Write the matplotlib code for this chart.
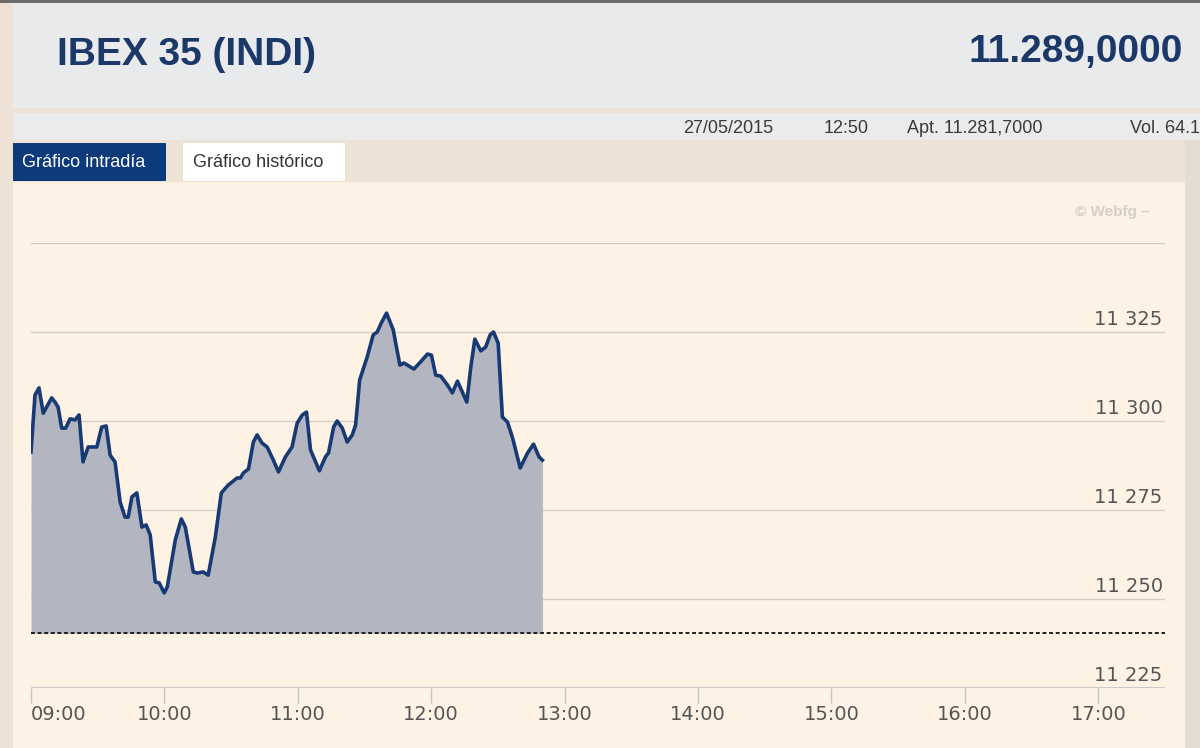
import matplotlib
matplotlib.use("Agg")
import matplotlib.pyplot as plt
from matplotlib.patches import Rectangle
import matplotlib.transforms as mtransforms

# intraday data: minutes after 09:00 and index level
minutes = [0, 1.8, 3.6, 5.5, 9.3, 10.8, 12.2, 13.8, 15.6, 17.6, 19.8, 21.6, 23.4, 25.7,
           29.6, 31.8, 33.8, 35.6, 37.8, 40.1, 42.3, 43.7, 45.4, 47.6, 49.9, 51.8, 53.6,
           55.9, 57.7, 59.9, 61.3, 64.9, 67.6, 69.4, 73.0, 74.8, 77.4, 79.7, 82.9, 85.6,
           88.7, 92.7, 94.2, 95.5, 97.8, 100.0, 101.7, 103.9, 106.2, 109.0, 111.3, 114.4,
           117.4, 119.7, 122.0, 123.9, 125.7, 129.7, 132.4, 133.8, 136.1, 137.7, 140.0,
           142.2, 144.5, 146.0, 147.8, 151.2, 153.9, 155.7, 157.5, 159.9, 162.9, 165.9,
           167.7, 172.2, 175.2, 178.3, 180.1, 182.0, 184.3, 187.3, 189.5, 191.8, 196.0,
           197.8, 199.6, 202.3, 204.5, 206.5, 208.0, 210.1, 212.0, 214.3, 216.6, 220.0,
           223.3, 226.0, 228.5, 230.0]
values = [11291.3, 11307.3, 11309.3, 11302.2, 11306.5, 11305.3, 11303.9, 11298.0, 11298.0,
          11300.6, 11300.3, 11301.7, 11288.5, 11292.7, 11292.7, 11298.3, 11298.6, 11290.4,
          11288.5, 11277.2, 11273.0, 11273.0, 11278.7, 11279.8, 11270.2, 11270.8, 11268.0,
          11254.8, 11254.5, 11251.7, 11253.4, 11266.6, 11272.5, 11270.2, 11257.6, 11257.3,
          11257.6, 11256.7, 11267.4, 11279.8, 11282.0, 11284.0, 11284.0, 11285.4, 11286.5,
          11294.1, 11296.1, 11293.8, 11292.7, 11289.0, 11285.7, 11289.9, 11292.7, 11299.4,
          11301.7, 11302.5, 11291.9, 11286.0, 11289.9, 11291.0, 11298.3, 11300.0, 11298.0,
          11294.1, 11296.1, 11298.9, 11311.5, 11318.0, 11324.2, 11325.0, 11327.5, 11330.3,
          11325.6, 11315.7, 11316.3, 11314.6, 11316.6, 11318.8, 11318.5, 11312.9, 11312.6,
          11310.1, 11307.9, 11311.2, 11305.3, 11315.2, 11323.0, 11319.7, 11320.8, 11324.2,
          11325.0, 11321.9, 11301.1, 11299.7, 11295.2, 11286.8, 11291.0, 11293.5, 11289.9,
          11289.0]
prev_close = 11240.4

hour_ticks = [0, 60, 120, 180, 240, 300, 360, 420, 480]
hour_labels = ["09:00", "10:00", "11:00", "12:00", "13:00", "14:00", "15:00", "16:00", "17:00"]
grid_levels = [11250, 11275, 11300, 11325, 11350]
label_levels = [11225, 11250, 11275, 11300, 11325]

title = "IBEX 35 (INDI)"
last_price = "11.289,0000"
info = [("27/05/2015", 683), ("12:50", 824), ("Apt. 11.281,7000", 907), ("Vol. 64.1", 1130)]

W, H = 1200, 748
fig = plt.figure(figsize=(W / 100, H / 100), dpi=100)

# page background drawn in pixel coordinates
bg = fig.add_axes([0, 0, 1, 1])
bg.set_xlim(0, W)
bg.set_ylim(H, 0)
bg.axis("off")

def box(x, y, w, h, color):
    bg.add_patch(Rectangle((x, y), w, h, facecolor=color, edgecolor="none"))

box(0, 0, W, H, "#ede2d5")
box(13, 3, W - 13, 105, "#e9eaec")
box(0, 0, W, 3, "#6b6b6b")
box(13, 113, W - 13, 27, "#ebebec")
box(13, 182, 1172, H - 182, "#fdf2e3")
box(1185, 140, 15, H - 140, "#e6ddd2")
box(13, 143, 153, 38, "#0d3a7b")
box(183, 143, 162, 38, "#ffffff")

bg.text(57, 55, title, fontsize=28, fontweight="bold", color="#1b3868",
        family="Liberation Sans", va="center", ha="left")
bg.text(1183, 52, last_price, fontsize=28, fontweight="bold", color="#1b3868",
        family="Liberation Sans", va="center", ha="right")
for txt, x in info:
    bg.text(x, 128, txt, fontsize=13, color="#3a3a3a", family="Liberation Sans",
            va="center", ha="left")
bg.text(22, 162, "Gráfico intradía", fontsize=13, color="white",
        family="Liberation Sans", va="center", ha="left")
bg.text(193, 162, "Gráfico histórico", fontsize=13, color="#333333",
        family="Liberation Sans", va="center", ha="left")
bg.text(1150, 212, "© Webfg –", fontsize=11, fontweight="bold", color="#d6cfc7",
        family="Liberation Sans", va="center", ha="right")

# chart axes
ax = fig.add_axes([31 / W, 60 / H, 1134 / W, 445 / H])
ax.set_facecolor("none")
ax.set_xlim(0, 510)
ax.set_ylim(11225, 11350)
for s in ax.spines.values():
    s.set_visible(False)

for lv in grid_levels:
    ax.axhline(lv, color="#d3cec6", lw=1, zorder=1)
ax.axhline(11225, color="#c4c4c4", lw=1.2, zorder=1)

ax.fill_between(minutes, values, prev_close, color="#b3b6c0", lw=0, zorder=2)
ax.plot(minutes, values, color="#173a74", lw=2.6, solid_joinstyle="round", zorder=3)
ax.axhline(prev_close, color="#1e1e1e", lw=1.4, ls=(0, (2, 1.4)), zorder=4)

ax.set_yticks([])
ax.set_xticks(hour_ticks)
ax.set_xticklabels(hour_labels, fontsize=14, color="#555555")
ax.tick_params(axis="x", direction="out", length=11, width=1, color="#c4c4c4", pad=1)
ax.get_xticklabels()[0].set_horizontalalignment("left")

trans = mtransforms.blended_transform_factory(ax.transAxes, ax.transData)
off = mtransforms.ScaledTranslation(0, 3 / 100, fig.dpi_scale_trans)
for lv in label_levels:
    ax.text(0.998, lv, f"{lv:,}".replace(",", " "), transform=trans + off,
            ha="right", va="bottom", fontsize=14, color="#555555")

fig.savefig("out.png", dpi=100)
